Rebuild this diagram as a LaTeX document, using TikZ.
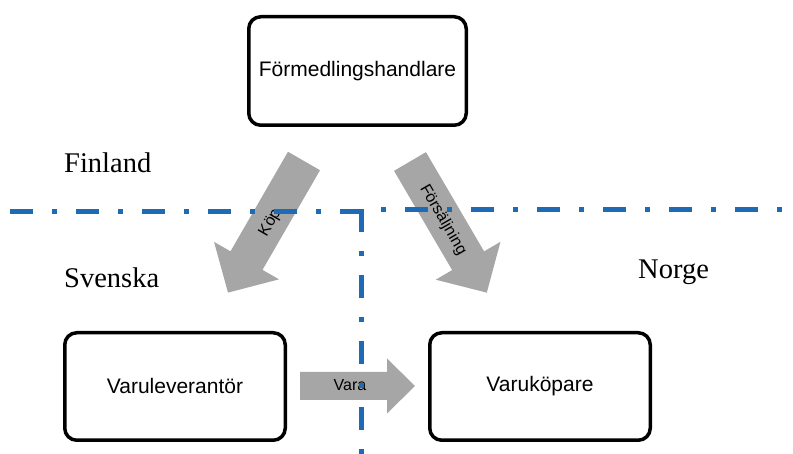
\documentclass[tikz,border=0pt]{standalone}
\usepackage{fontspec}
\setmainfont{Liberation Serif}
\newfontfamily\arialfont{Liberation Sans}
\definecolor{lineblue}{RGB}{31,106,180}
\definecolor{arrowgray}{RGB}{166,166,166}
\begin{document}
\begin{tikzpicture}[x=1pt,y=1pt,
  box/.style={draw=black, line width=3.5pt, rounded corners=12pt, fill=white,
    inner sep=0pt, font=\arialfont\fontsize{21}{25}\selectfont},
  region/.style={font=\fontsize{28.5}{34}\selectfont, anchor=base west, inner sep=0pt},
  flowlabel/.style={font=\arialfont\fontsize{16}{19}\selectfont, inner sep=0pt},
  blockarrow/.style={fill=arrowgray, draw=none},
  border/.style={draw=lineblue, line width=5pt, dash pattern=on 23pt off 19pt on 5pt off 19pt},
  borderdot/.style={draw=lineblue, line width=5pt, dash pattern=on 5pt off 19pt on 23pt off 19pt}
]
\useasboundingbox (0,0) rectangle (793,454);

% boxes
\node[box, minimum width=217.5pt, minimum height=108.5pt] (fh) at (357.5,383) {Förmedlingshandlare};
\node[box, minimum width=220.5pt, minimum height=107.5pt] (vl) at (175,67.5) {Varuleverantör};
\node[box, minimum width=220.5pt, minimum height=107.5pt] (vk) at (540,67.5) {Varuköpare};

% block arrows
\begin{scope}[shift={(304,293)}, rotate=240]
  \fill[blockarrow] (0,-18.5) -- (115,-18.5) -- (115,-37.5) -- (152,0) -- (115,37.5) -- (115,18.5) -- (0,18.5) -- cycle;
\end{scope}
\begin{scope}[shift={(410,292.5)}, rotate=-59.65]
  \fill[blockarrow] (0,-18.5) -- (115,-18.5) -- (115,-37.5) -- (152,0) -- (115,37.5) -- (115,18.5) -- (0,18.5) -- cycle;
\end{scope}
\begin{scope}[shift={(300,68)}]
  \fill[blockarrow] (0,-14) -- (87,-14) -- (87,-27.5) -- (115,0) -- (87,27.5) -- (87,14) -- (0,14) -- cycle;
\end{scope}

% arrow labels
\node[flowlabel, rotate=60] (kop) at (270.5,231) {Köp};
\node[flowlabel, rotate=-60] (fors) at (443,234) {Försäljning};
\node[flowlabel] (vara) at (350,69) {Vara};

% region labels
\node[region] (fi) at (64,281) {Finland};
\node[region] (sv) at (64,166) {Svenska};
\node[region] (no) at (638,175) {Norge};

% borders
\coordinate (bl) at (10,242);
\coordinate (bc) at (363.5,242);
\coordinate (vt) at (361,244.5);
\coordinate (vb) at (361,0);
\coordinate (rs) at (381,244.5);
\coordinate (re) at (785,244.5);
\draw[border] (bl) -- (bc);
\draw[border] (vt) -- (vb);
\draw[borderdot] (rs) -- (re);
\end{tikzpicture}
\end{document}
